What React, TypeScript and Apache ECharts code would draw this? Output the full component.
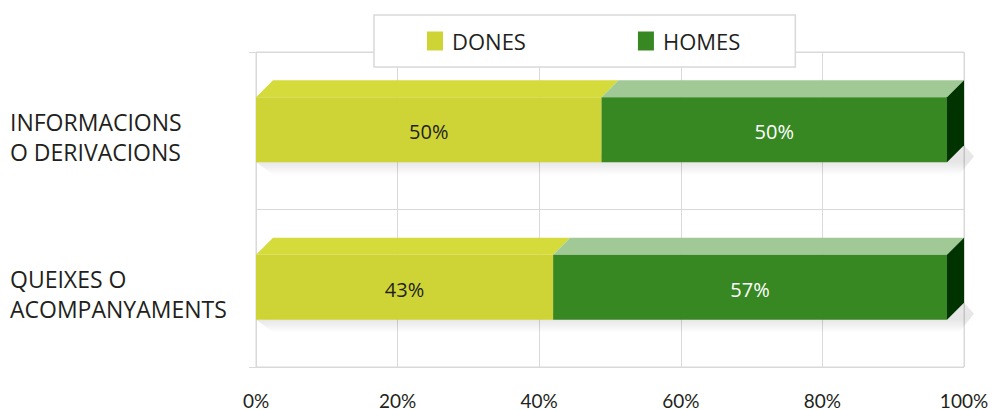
import React, { useEffect, useRef } from "react";
import * as echarts from "echarts";

const categories = ["INFORMACIONS\nO DERIVACIONS", "QUEIXES O\nACOMPANYAMENTS"];
const dones = [50, 43];
const homes = [50, 57];
const seriesNames = ["DONES", "HOMES"];
const xTicks = [0, 20, 40, 60, 80, 100];

const YELLOW_FRONT = "#CFD436";
const YELLOW_TOP = "#D6DB3C";
const GREEN_FRONT = "#378823";
const GREEN_TOP = "#A1C995";
const GREEN_SIDE = "#003300";
const DEPTH = 17;

function makeRender(front: string, top: string, labelColor: string, withSide: boolean) {
  return (params: any, api: any) => {
    const start = api.value(0);
    const end = api.value(1);
    const cat = api.value(2);
    const p0 = api.coord([start, cat]);
    const p1 = api.coord([end, cat]);
    const band = api.size([0, 1])[1];
    const h = band * 0.413;
    const yc = p0[1] - 1;
    const yt = yc - h / 2;
    const yb = yc + h / 2;
    const x0 = p0[0];
    const x1 = p1[0];
    const children: any[] = [
      {
        type: "polygon",
        shape: { points: [[x0, yt], [x1, yt], [x1 + DEPTH, yt - DEPTH], [x0 + DEPTH, yt - DEPTH]] },
        style: { fill: top },
      },
      {
        type: "rect",
        shape: { x: x0, y: yt, width: x1 - x0, height: h },
        style: { fill: front },
      },
    ];
    if (withSide) {
      children.push({
        type: "polygon",
        shape: { points: [[x1, yt], [x1 + DEPTH, yt - DEPTH], [x1 + DEPTH, yb - DEPTH], [x1, yb]] },
        style: { fill: GREEN_SIDE },
      });
    }
    children.push({
      type: "text",
      x: (x0 + x1) / 2,
      y: yc + 2,
      style: {
        text: Math.round(end - start) + "%",
        fill: labelColor,
        font: '20px "Open Sans"',
        align: "center",
        verticalAlign: "middle",
      },
    });
    return { type: "group", children };
  };
}

function renderShadow(params: any, api: any) {
  const end = api.value(1);
  const cat = api.value(2);
  const p0 = api.coord([0, cat]);
  const p1 = api.coord([end, cat]);
  const band = api.size([0, 1])[1];
  const h = band * 0.413;
  const yb = p0[1] - 1 + h / 2;
  const x0 = p0[0];
  const x1 = p1[0];
  return {
    type: "polygon",
    shape: {
      points: [
        [x0, yb],
        [x1 + DEPTH, yb - DEPTH],
        [x1 + 27, yb - 6],
        [x1 + 12, yb + 13],
        [x0 + 18, yb + 13],
      ],
    },
    style: {
      fill: new echarts.graphic.LinearGradient(0, 0, 0, 1, [
        { offset: 0, color: "rgba(0,0,0,0.09)" },
        { offset: 0.55, color: "rgba(0,0,0,0.1)" },
        { offset: 1, color: "rgba(0,0,0,0)" },
      ]),
    },
  };
}

export default function App() {
  const ref = useRef<HTMLDivElement>(null);
  useEffect(() => {
    if (!ref.current) return;
    const chart = echarts.init(ref.current, null, { renderer: "svg" });
    const donesData = dones.map((v, i) => [0, v, i]);
    const homesData = homes.map((v, i) => [dones[i], dones[i] + v, i]);
    const totalData = homes.map((v, i) => [0, dones[i] + v, i]);
    chart.setOption({
      animation: false,
      backgroundColor: "#ffffff",
      legend: {
        data: seriesNames,
        left: 374,
        top: 15,
        padding: [15, 55, 15, 53],
        itemGap: 112,
        itemWidth: 16,
        itemHeight: 19,
        icon: "rect",
        backgroundColor: "#ffffff",
        borderColor: "#D9D9D9",
        borderWidth: 1.5,
        selectedMode: false,
        textStyle: { fontFamily: "Open Sans", fontSize: 22, color: "#231F20", lineHeight: 19, padding: [0, 0, 0, 4] },
      },
      grid: [
        { left: 256, top: 52, width: 708, height: 315, show: true, borderColor: "#D9D9D9", borderWidth: 1 },
        { left: 256, top: 52, width: 691, height: 315 },
        { left: 256, top: 58, width: 708, height: 315 },
      ],
      xAxis: [
        {
          type: "value",
          gridIndex: 0,
          min: 0,
          max: 100,
          interval: 20,
          axisLine: { show: false },
          axisTick: { show: false },
          splitLine: { show: true, lineStyle: { color: "#D9D9D9", width: 1 } },
          axisLabel: {
            formatter: (v: number) => (xTicks.includes(v) ? v + "%" : ""),
            fontFamily: "Lato",
            fontSize: 19,
            lineHeight: 18,
            color: "#231F20",
            margin: 24,
          },
        },
        { type: "value", gridIndex: 1, min: 0, max: 100, show: false },
        { type: "value", gridIndex: 2, min: 0, max: 100, show: false },
      ],
      yAxis: [
        {
          type: "category",
          gridIndex: 0,
          data: categories,
          inverse: true,
          axisLine: { show: false },
          axisTick: { show: true, length: 7, lineStyle: { color: "#D9D9D9" }, interval: (i: number) => i === 1 },
          splitLine: { show: true, lineStyle: { color: "#D9D9D9", width: 1 } },
          axisLabel: { show: false },
        },
        { type: "category", gridIndex: 1, data: categories, inverse: true, show: false },
        {
          type: "category",
          gridIndex: 2,
          data: categories,
          inverse: true,
          axisLine: { show: false },
          axisTick: { show: false },
          splitLine: { show: false },
          axisLabel: {
            align: "left",
            margin: 246,
            fontFamily: "Open Sans",
            fontSize: 23,
            lineHeight: 30,
            color: "#231F20",
          },
        },
      ],
      series: [
        {
          name: "shadow",
          type: "custom",
          xAxisIndex: 1,
          yAxisIndex: 1,
          renderItem: renderShadow,
          data: totalData,
          silent: true,
          z: 1,
        },
        {
          name: "DONES",
          type: "custom",
          xAxisIndex: 1,
          yAxisIndex: 1,
          itemStyle: { color: YELLOW_FRONT },
          renderItem: makeRender(YELLOW_FRONT, YELLOW_TOP, "#231F20", false),
          data: donesData,
          z: 2,
        },
        {
          name: "HOMES",
          type: "custom",
          xAxisIndex: 1,
          yAxisIndex: 1,
          itemStyle: { color: GREEN_FRONT },
          renderItem: makeRender(GREEN_FRONT, GREEN_TOP, "#ffffff", true),
          data: homesData,
          z: 3,
        },
      ],
    });
    return () => chart.dispose();
  }, []);
  return <div ref={ref} style={{ width: 992, height: 410, position: "absolute", left: 0, top: 0 }} />;
}
